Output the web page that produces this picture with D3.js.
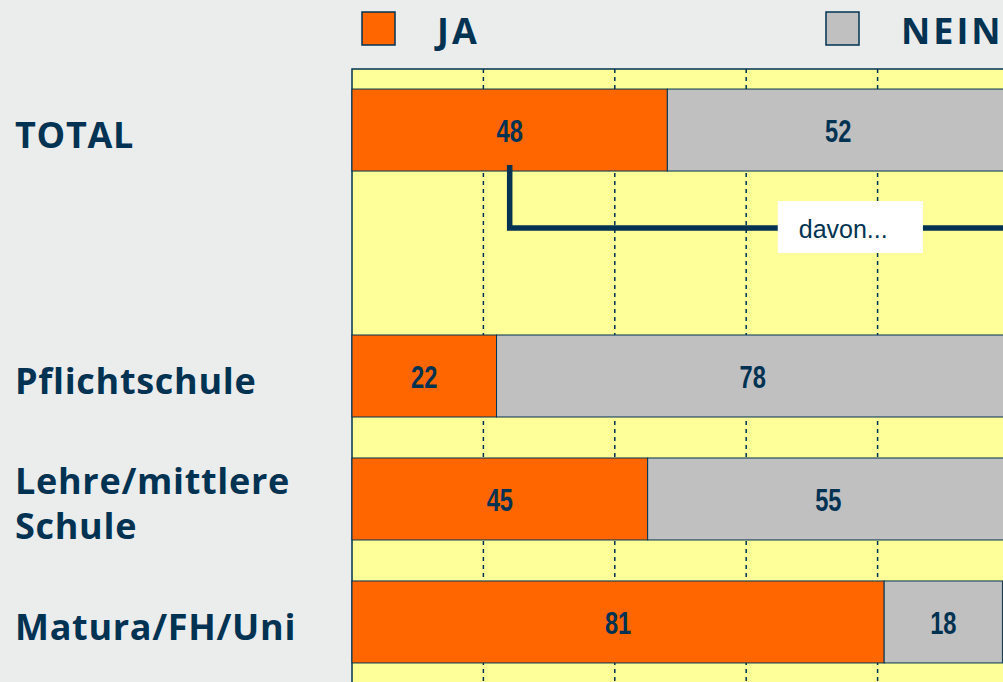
<!DOCTYPE html>
<html>
<head>
<meta charset="utf-8">
<script src="https://cdn.jsdelivr.net/npm/d3@7"></script>
<style>
  html, body { margin: 0; padding: 0; background: #ebecec; overflow: hidden; }
  svg { display: block; }
</style>
</head>
<body>
<div id="chart"></div>
<script>
// rows of the chart; the empty row is the "davon..." gap under TOTAL
const categories = ["TOTAL", "", "Pflichtschule", "Lehre/mittlere Schule", "Matura/FH/Uni"];
const jaValues = [48, null, 22, 45, 81];
const neinValues = [52, null, 78, 55, 18];
const seriesNames = ["JA", "NEIN"];
const gridTicks = [0, 20, 40, 60, 80, 100];
const noteText = "davon...";

const width = 1003;
const height = 682;
const navy = '#003352';
const colors = { JA: '#ff6600', NEIN: '#c0c0c0' };

const svg = d3.select('#chart').append('svg')
    .attr('width', width)
    .attr('height', height);

const x = d3.scaleLinear()
    .domain([0, 100])
    .range([352, 1009]);

const y = d3.scaleBand()
    .domain(categories)
    .range([69, 683])
    .paddingInner(1 / 3)
    .paddingOuter(0.163);

const rows = categories.map((c, i) => ({ cat: c, JA: jaValues[i], NEIN: neinValues[i] }))
    .filter(d => d.JA != null);

const stacked = d3.stack().keys(seriesNames)(rows);

// plot background
svg.append('rect')
    .attr('x', x(0))
    .attr('y', y.range()[0])
    .attr('width', x(100) - x(0))
    .attr('height', y.range()[1] - y.range()[0])
    .attr('fill', '#ffff99')
    .attr('stroke', navy)
    .attr('stroke-width', 1.5);

// dashed grid
svg.append('g')
    .selectAll('line')
    .data(gridTicks.filter(t => t > 0 && t < 100))
    .join('line')
    .attr('x1', d => x(d))
    .attr('x2', d => x(d))
    .attr('y1', y.range()[0])
    .attr('y2', y.range()[1])
    .attr('stroke', navy)
    .attr('stroke-width', 1.5)
    .attr('stroke-dasharray', '4,4');

// bars
const layers = svg.append('g')
    .selectAll('g')
    .data(stacked)
    .join('g')
    .attr('fill', d => colors[d.key]);

layers.selectAll('rect')
    .data(d => d)
    .join('rect')
    .attr('x', d => x(d[0]))
    .attr('width', d => x(d[1]) - x(d[0]))
    .attr('y', d => y(d.data.cat))
    .attr('height', y.bandwidth())
    .attr('stroke', navy)
    .attr('stroke-width', 1);

// value labels (narrow bold digits)
layers.selectAll('text')
    .data(d => d)
    .join('text')
    .attr('transform', d => `translate(${(x(d[0]) + x(d[1])) / 2}, ${y(d.data.cat) + y.bandwidth() / 2 + 12}) scale(0.74, 1)`)
    .attr('text-anchor', 'middle')
    .attr('fill', navy)
    .style('font-family', '"Liberation Sans", Arial, sans-serif')
    .style('font-weight', 'bold')
    .style('font-size', '32px')
    .text(d => d[1] - d[0]);

// "davon..." connector from the JA part of TOTAL
const totalJa = stacked[0][0];
const connX = (x(totalJa[0]) + x(totalJa[1])) / 2;
const connTop = y('TOTAL') + y.bandwidth() - 6;
const connY = y('TOTAL') + y.bandwidth() + 57;

svg.append('path')
    .attr('d', `M${connX},${connTop}V${connY}H${width + 20}`)
    .attr('fill', 'none')
    .attr('stroke', navy)
    .attr('stroke-width', 5.5);

const noteG = svg.append('g');
noteG.append('rect')
    .attr('x', x(64.8))
    .attr('y', connY - 27)
    .attr('width', x(86.9) - x(64.8))
    .attr('height', 52)
    .attr('fill', '#ffffff');
noteG.append('text')
    .attr('x', x(64.8) + 21)
    .attr('y', connY + 10)
    .attr('fill', navy)
    .style('font-family', '"Liberation Sans", Arial, sans-serif')
    .style('font-size', '25px')
    .text(noteText);

// category labels
const labels = svg.append('g')
    .selectAll('text')
    .data(categories.filter(c => c !== ''))
    .join('text')
    .attr('fill', navy)
    .style('font-family', '"Open Sans", "DejaVu Sans", sans-serif')
    .style('font-weight', 'bold')
    .style('font-size', '36px')
    .style('letter-spacing', '0.7px')
    .attr('transform', d => `translate(15, ${y(d) + y.bandwidth() / 2 + 18})`);

labels.selectAll('tspan')
    .data(d => d.split(' ').map((line, i, arr) => ({ line, i, n: arr.length })))
    .join('tspan')
    .attr('x', 0)
    .attr('y', d => (d.i - (d.n - 1) / 2) * 45)
    .text(d => d.line);

// legend
const legendX = { JA: 362, NEIN: 826 };
const legend = svg.append('g')
    .selectAll('g')
    .data(seriesNames)
    .join('g')
    .attr('transform', d => `translate(${legendX[d]}, 12)`);

legend.append('rect')
    .attr('width', 33)
    .attr('height', 33)
    .attr('fill', d => colors[d])
    .attr('stroke', navy)
    .attr('stroke-width', 1.5);

legend.append('text')
    .attr('x', 75)
    .attr('y', 32)
    .attr('fill', navy)
    .style('font-family', '"Open Sans", "DejaVu Sans", sans-serif')
    .style('font-weight', 'bold')
    .style('font-size', '36px')
    .style('letter-spacing', '3px')
    .text(d => d);
</script>
</body>
</html>
